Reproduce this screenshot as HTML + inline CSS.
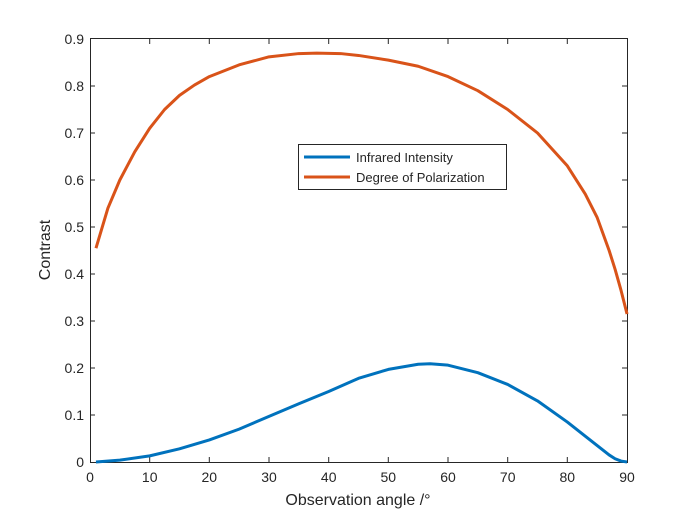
<!DOCTYPE html>
<html><head><style>body{margin:0;background:#fff}svg{display:block}text{font-family:"Liberation Sans",sans-serif;fill:#262626}</style></head><body>
<svg width="694" height="520" xmlns="http://www.w3.org/2000/svg">
<rect width="694" height="520" fill="#fff"/>
<g stroke="#262626" stroke-width="1" fill="none">
<rect x="90.5" y="38.5" width="537" height="424"/>
<path d="M149.7 462v-5M209.3 462v-5M269 462v-5M328.7 462v-5M388.3 462v-5M448 462v-5M507.7 462v-5M567.3 462v-5M149.7 39v5M209.3 39v5M269 39v5M328.7 39v5M388.3 39v5M448 39v5M507.7 39v5M567.3 39v5"/>
<path d="M90 415h5M90 368h5M90 321h5M90 274h5M90 227h5M90 180h5M90 133h5M90 86h5M627 415h-5M627 368h-5M627 321h-5M627 274h-5M627 227h-5M627 180h-5M627 133h-5M627 86h-5"/>
</g>
<g font-size="14" text-anchor="middle">
<text x="90" y="482">0</text><text x="149.7" y="482">10</text><text x="209.3" y="482">20</text><text x="269" y="482">30</text><text x="328.7" y="482">40</text><text x="388.3" y="482">50</text><text x="448" y="482">60</text><text x="507.7" y="482">70</text><text x="567.3" y="482">80</text><text x="627" y="482">90</text>
</g>
<g font-size="14" text-anchor="end">
<text x="84" y="467">0</text><text x="84" y="420">0.1</text><text x="84" y="373">0.2</text><text x="84" y="326">0.3</text><text x="84" y="279">0.4</text><text x="84" y="232">0.5</text><text x="84" y="185">0.6</text><text x="84" y="138">0.7</text><text x="84" y="91">0.8</text><text x="84" y="44">0.9</text>
</g>
<text x="358" y="505" font-size="16" text-anchor="middle">Observation angle /°</text>
<text transform="translate(50 250) rotate(-90)" font-size="16" text-anchor="middle">Contrast</text>
<g transform="matrix(5.967 0 0 -470 90 462)" fill="none" stroke-width="3" stroke-linejoin="round">
<polyline vector-effect="non-scaling-stroke" stroke="#D95319" points="1,0.455 3,0.54 5,0.6 7.5,0.66 10,0.71 12.5,0.75 15,0.78 17.5,0.802 20,0.82 25,0.845 30,0.862 35,0.869 38,0.87 42,0.869 45,0.865 50,0.855 55,0.842 60,0.82 65,0.79 70,0.75 75,0.70 80,0.63 83,0.57 85,0.52 87,0.45 88,0.41 89,0.365 90,0.315"/>
<polyline vector-effect="non-scaling-stroke" stroke="#0072BD" points="1,0 5,0.004 10,0.013 15,0.028 20,0.047 25,0.07 30,0.097 35,0.124 40,0.15 45,0.178 50,0.197 55,0.208 57,0.209 60,0.206 65,0.19 70,0.165 75,0.13 80,0.085 83,0.055 85,0.035 87,0.015 88,0.007 89,0.002 90,0"/>
</g>
<rect x="298.5" y="144.5" width="208" height="45" fill="#fff" stroke="#262626"/>
<line x1="304" y1="157" x2="350" y2="157" stroke="#0072BD" stroke-width="3"/>
<line x1="304" y1="177" x2="350" y2="177" stroke="#D95319" stroke-width="3"/>
<text x="356" y="162" font-size="13">Infrared Intensity</text>
<text x="356" y="182" font-size="13">Degree of Polarization</text>
</svg>
</body></html>
